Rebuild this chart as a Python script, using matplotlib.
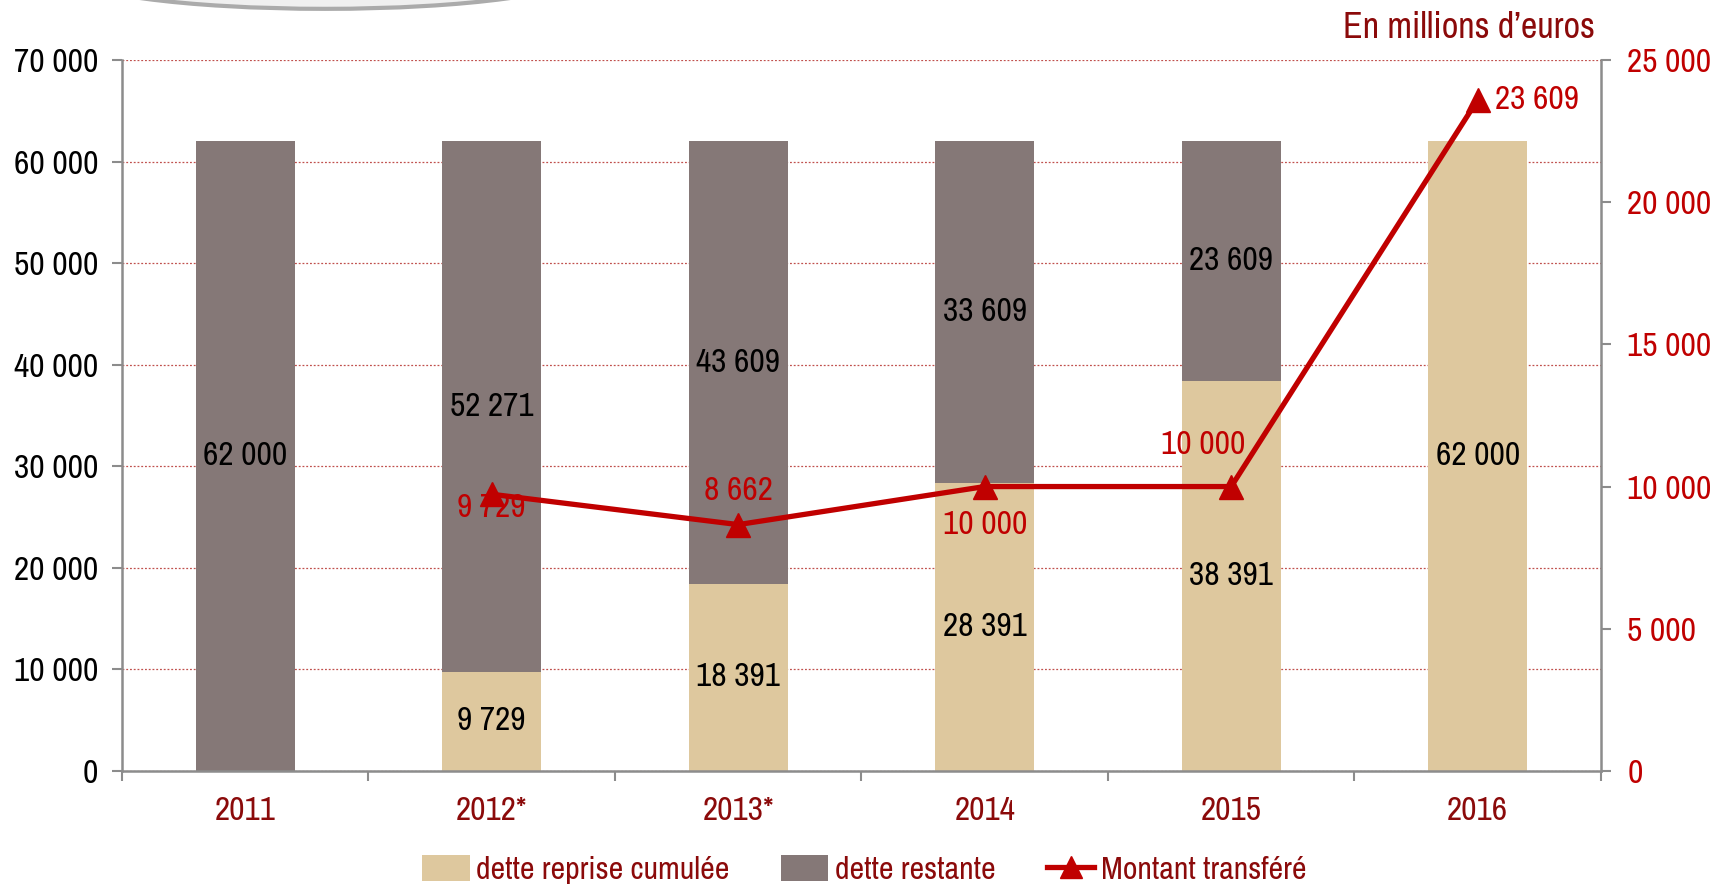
import numpy as np
import matplotlib
matplotlib.use("Agg")
import matplotlib.pyplot as plt
from matplotlib.patches import Ellipse
from matplotlib.ticker import FuncFormatter
from matplotlib import font_manager

# condensed Arial-like font, first one that is installed
wanted = ['Liberation Sans Narrow', 'Arimo Narrow', 'Archivo Narrow', 'PT Sans Narrow',
          'Roboto Condensed', 'Pragati Narrow', 'Liberation Sans']
have = set(f.name for f in font_manager.fontManager.ttflist)
font = [f for f in wanted if f in have][0]
plt.rcParams['font.family'] = [font, 'DejaVu Sans']

# data
years = ['2011', '2012*', '2013*', '2014', '2015', '2016']
dette_reprise = [0, 9729, 18391, 28391, 38391, 62000]
dette_restante = [62000, 52271, 43609, 33609, 23609, 0]
montant_years = ['2012*', '2013*', '2014', '2015', '2016']
montant = [9729, 8662, 10000, 10000, 23609]

# colours
beige = '#dec89e'
taupe = '#857877'
red = '#c00000'
darkred = '#8b0a0a'
gray = '#8c8c8c'

FS = 24


def fmt(v, pos=None):
    return '{:,}'.format(int(v)).replace(',', ' ')


fig = plt.figure(figsize=(17.11, 8.84), dpi=100)
ax = fig.add_axes([0.0713, 0.128, 0.8644, 0.804])

# decorative swoosh from the slide background
fig.patches.append(Ellipse((0.19, 1.03), 0.30, 0.08, transform=fig.transFigure,
                           facecolor='#f0f0f0', edgecolor='#ababab', lw=3, zorder=0))

x = np.arange(len(years))
w = 0.4
ax.bar(x, dette_reprise, w, color=beige, zorder=2, label='dette reprise cumulée')
ax.bar(x, dette_restante, w, bottom=dette_reprise, color=taupe, zorder=2,
       label='dette restante')

# labels inside bars
for xi, a, b in zip(x, dette_reprise, dette_restante):
    if a > 0:
        ax.text(xi, a / 2, fmt(a), ha='center', va='center', fontsize=FS, color='black', zorder=5)
    if b > 0:
        ax.text(xi, a + b / 2, fmt(b), ha='center', va='center', fontsize=FS, color='black', zorder=5)

ax.set_xlim(-0.5, len(years) - 0.5)
ax.set_ylim(0, 70000)
ax.set_yticks(np.arange(0, 70001, 10000))
ax.yaxis.set_major_formatter(FuncFormatter(fmt))
ax.tick_params(axis='y', labelsize=FS, colors='black', length=7, width=1.5, color=gray, pad=10)
ax.grid(axis='y', color='#c0504d', linestyle=(0, (1.5, 1.5)), lw=0.9, zorder=0)
ax.set_axisbelow(True)

ax.set_xticks(np.arange(-0.5, len(years)), minor=False)
ax.set_xticklabels([])
ax.set_xticks(x, minor=True)
ax.set_xticklabels(years, minor=True)
ax.tick_params(axis='x', which='major', length=7, width=1.5, color=gray)
ax.tick_params(axis='x', which='minor', length=0, labelsize=FS, labelcolor=darkred, pad=18)

for s in ['top', 'right']:
    ax.spines[s].set_visible(False)
for s in ['left', 'bottom']:
    ax.spines[s].set_color(gray)
    ax.spines[s].set_linewidth(1.8)

# secondary axis
ax2 = ax.twinx()
ax2.set_ylim(0, 25000)
ax2.set_yticks(np.arange(0, 25001, 5000))
ax2.yaxis.set_major_formatter(FuncFormatter(fmt))
ax2.tick_params(axis='y', labelsize=FS, labelcolor=red, length=7, width=1.5, color=gray, pad=12)
for s in ['top', 'left', 'bottom']:
    ax2.spines[s].set_visible(False)
ax2.spines['right'].set_color(gray)
ax2.spines['right'].set_linewidth(1.8)

mx = [years.index(y) for y in montant_years]
ax2.plot(mx, montant, color=red, lw=3.8, marker='^', markersize=17, zorder=4,
         label='Montant transféré')

offsets = [(0, -10), (0, 24), (0, -28), (-20, 30), (43, 0)]
for xi, v, off in zip(mx, montant, offsets):
    ax2.annotate(fmt(v), (xi, v), xytext=off, textcoords='offset points',
                 ha='center', va='center', fontsize=FS, color=red, zorder=6)

fig.text(0.932, 0.969, 'En millions d\u2019euros', ha='right', va='center',
         fontsize=26, color=darkred)

h1, l1 = ax.get_legend_handles_labels()
h2, l2 = ax2.get_legend_handles_labels()
fig.legend(h1 + h2, l1 + l2, loc='center', bbox_to_anchor=(0.505, 0.016), ncol=3,
           frameon=False, fontsize=23, labelcolor=darkred, handlelength=1.5,
           handleheight=0.85, handletextpad=0.2, columnspacing=1.6, markerscale=0.9)

fig.savefig('out.png', dpi=100)
